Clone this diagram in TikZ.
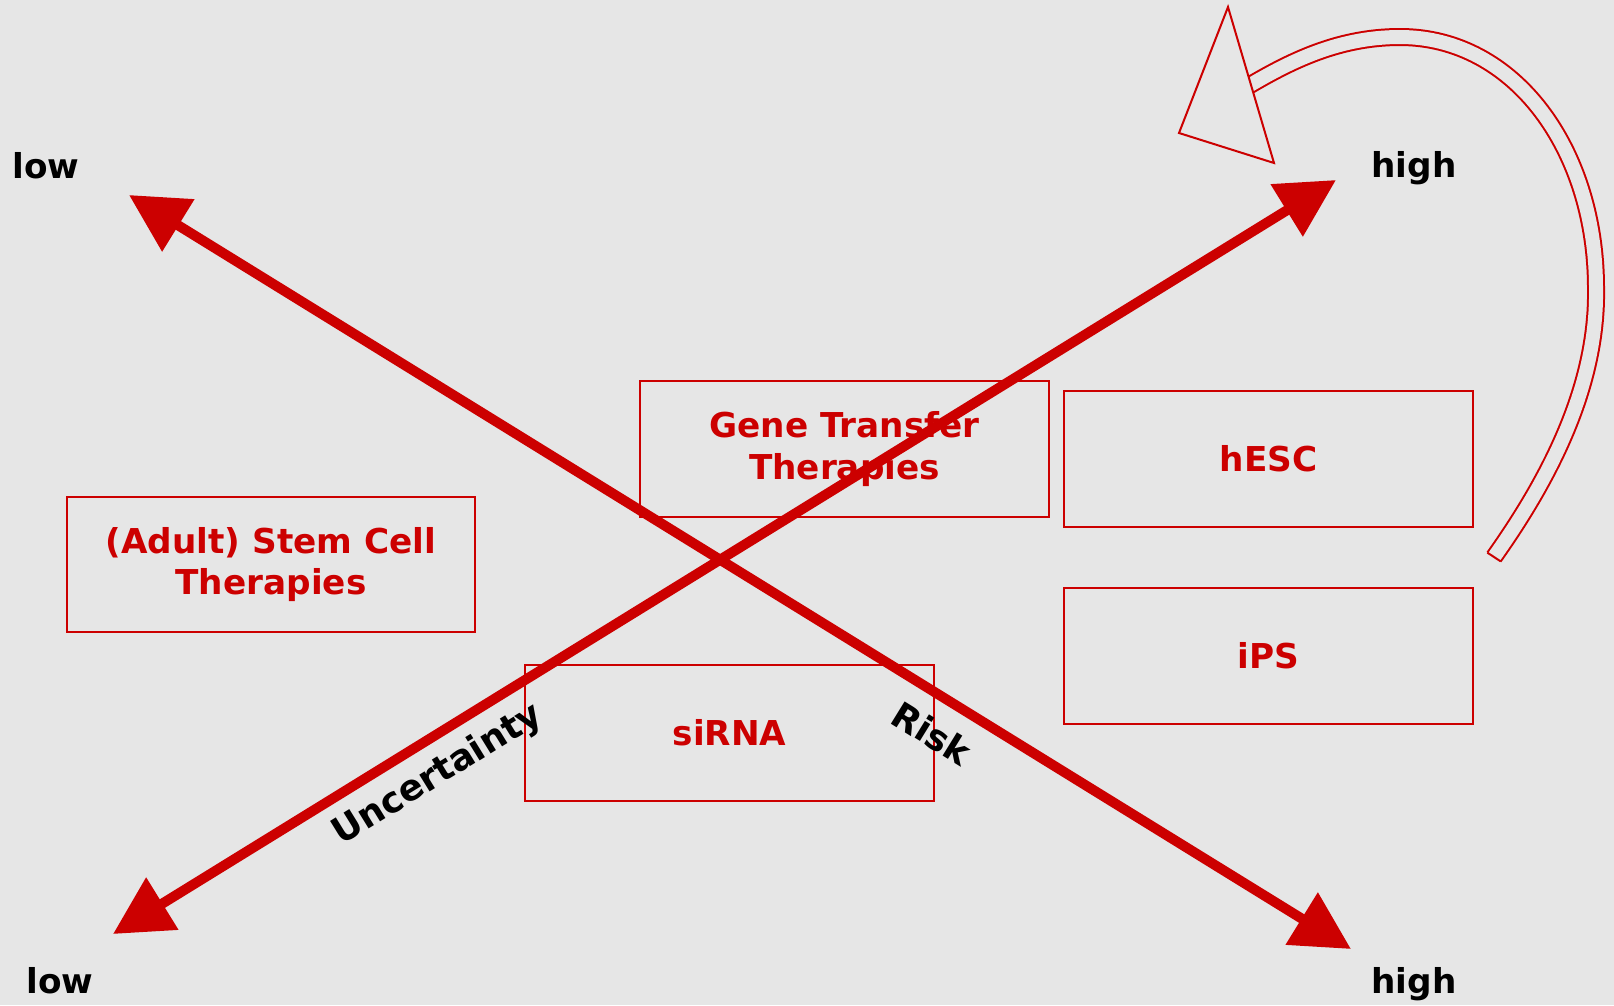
\documentclass[tikz,border=0pt]{standalone}
\usepackage{fontspec}
\setmainfont{DejaVu Sans}
\usepackage{tikz}
\usetikzlibrary{arrows.meta}
\definecolor{bgray}{RGB}{230,230,230}
\definecolor{dred}{RGB}{204,0,0}

\begin{document}
\begin{tikzpicture}[x=0.02cm, y=-0.02cm,
		box/.style={draw=dred, line width=0.04cm, text=dred, minimum width=8.18cm, minimum height=2.72cm, align=center, inner sep=0pt, font=\fontsize{19.5}{23.6}\selectfont\bfseries},
		endlabel/.style={anchor=base, inner sep=0pt, font=\fontsize{19.5}{23.6}\selectfont\bfseries},
		axislabel/.style={inner sep=0pt, font=\fontsize{20.5}{24}\selectfont\bfseries},
		axis/.style={draw=dred, line width=0.2cm, {Triangle[length=1.16cm, width=1.18cm]}-{Triangle[length=1.16cm, width=1.18cm]}},
		hollow/.style={draw=dred, line width=0.04cm, fill=bgray}]
				\useasboundingbox (0,0) rectangle (1614,1005);
				\fill[bgray] (0,0) rectangle (1614,1005);
				
				\node[box] (stem) at (271,564.5) {(Adult) Stem Cell\\Therapies};
				\node[box] (gene) at (844.5,449) {Gene Transfer\\Therapies};
				\node[box] (hesc) at (1268.5,459) {hESC};
				\node[box] (ips) at (1268.5,656) {iPS};
				\node[box] (sirna) at (729.5,733) {siRNA};
				
				\coordinate (ulow) at (113,934);
				\coordinate (uhigh) at (1336,180);
				\coordinate (rlow) at (129,195);
				\coordinate (rhigh) at (1351,949);
				\draw[axis] (ulow) -- (uhigh);
				\draw[axis] (rlow) -- (rhigh);
				
				\node[axislabel, rotate=31.65] (unc) at (438,775) {Uncertainty};
				\node[axislabel, rotate=-31.67] (risk) at (932,733) {Risk};
				
				\node[endlabel] (rlowtxt) at (46,178) {low};
				\node[endlabel] (uhightxt) at (1414,177) {high};
				\node[endlabel] (ulowtxt) at (60,993) {low};
				\node[endlabel] (rhightxt) at (1414,993) {high};
				
				% curved hollow arrow
				\coordinate (tail) at (1494,557);
				\coordinate (turnR) at (1596,288);
				\coordinate (turnT) at (1400,37);
				\coordinate (join) at (1240,91);
				\coordinate (capA) at (1500.7,561.4);
				\coordinate (capB) at (1487.3,552.6);
				\coordinate (headA) at (1228,7);
				\coordinate (headB) at (1179,133);
				\coordinate (headC) at (1274,163);
				\draw[draw=dred, line width=0.04cm, double=bgray, double distance=0.28cm] (tail) .. controls (1545,485) and (1598,390) .. (turnR) .. controls (1596,150) and (1515,37) .. (turnT) .. controls (1335,37) and (1285,64) .. (join);
				\draw[draw=dred, line width=0.04cm] (capA) -- (capB);
				\draw[hollow] (headA) -- (headB) -- (headC) -- cycle;
			\end{tikzpicture}
\end{document}
